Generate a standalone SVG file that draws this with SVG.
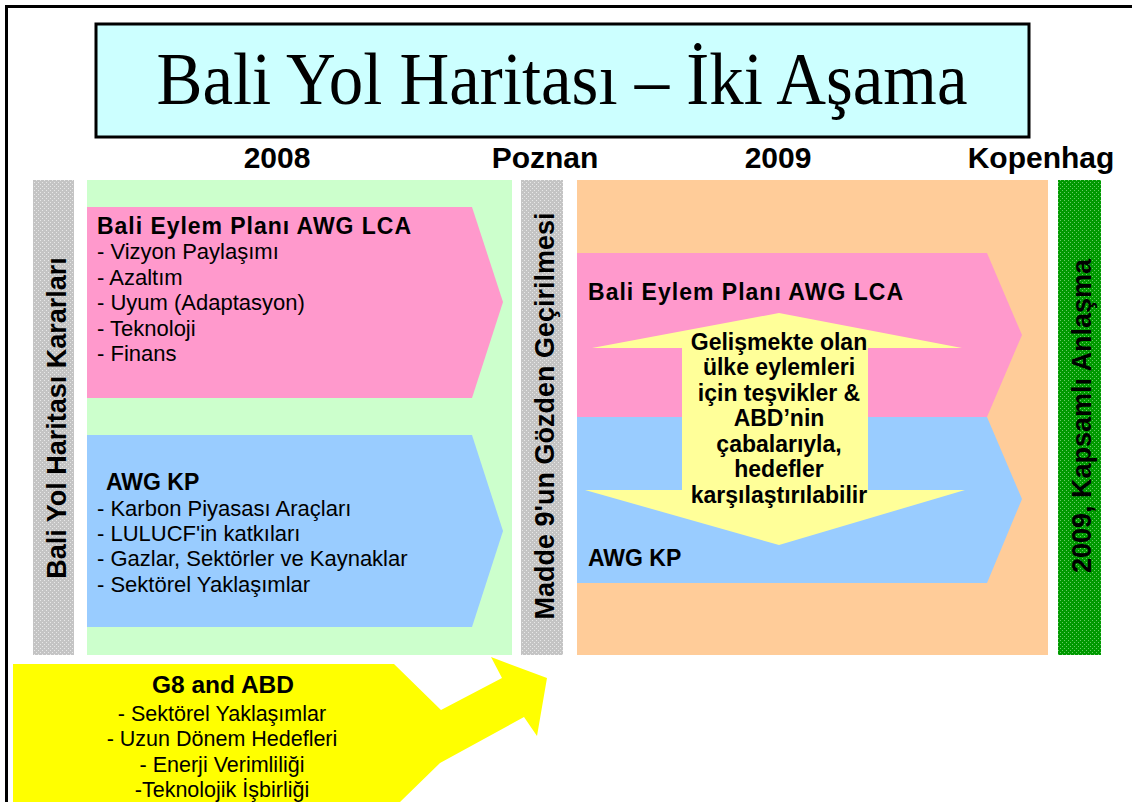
<svg xmlns="http://www.w3.org/2000/svg" width="1132" height="802" viewBox="0 0 1132 802">
<defs>
<pattern id="grayPat" width="4" height="4" patternUnits="userSpaceOnUse">
<rect width="4" height="4" fill="#C4C4C4"/>
<rect x="0" y="0" width="1" height="1" fill="#E8E8E8"/>
<rect x="2" y="2" width="1" height="1" fill="#E8E8E8"/>
</pattern>
<pattern id="greenPat" width="4" height="4" patternUnits="userSpaceOnUse">
<rect width="4" height="4" fill="#009900"/>
<rect x="0" y="0" width="1" height="1" fill="#66CC66"/>
<rect x="2" y="2" width="1" height="1" fill="#66CC66"/>
</pattern>
</defs>
<style>
.sans{font-family:"Liberation Sans",Arial,sans-serif;fill:#000}
.b{font-weight:bold}
.year{font-size:30px;font-weight:bold;text-anchor:middle}
.head{font-size:23px;font-weight:bold}
.item{font-size:22px}
.vert{font-size:27px;font-weight:bold;text-anchor:middle}
.ytext{font-size:23px;font-weight:bold;text-anchor:middle}
.gtext{font-size:21.5px;text-anchor:middle}
</style>
<rect x="0" y="0" width="1132" height="802" fill="#FFFFFF"/>
<rect x="6.5" y="6.5" width="1140" height="810" fill="none" stroke="#000" stroke-width="3"/>

<g id="title">
<rect x="96" y="24" width="933" height="113" fill="#CCFFFF" stroke="#000" stroke-width="3"/>
<text x="562" y="104" font-family="'Liberation Serif','Times New Roman',serif" font-size="73" text-anchor="middle" textLength="811" lengthAdjust="spacingAndGlyphs">Bali Yol Haritası – İki Aşama</text>
</g>

<g id="timeline-labels">
<text class="sans year" x="277" y="168">2008</text>
<text class="sans year" x="545" y="168">Poznan</text>
<text class="sans year" x="778" y="168">2009</text>
<text class="sans year" x="1041" y="168">Kopenhag</text>
</g>

<g id="bar-bali-kararlari">
<rect x="33" y="180" width="41" height="475" fill="url(#grayPat)"/>
<text class="sans vert" transform="translate(66,418) rotate(-90)">Bali Yol Haritası Kararları</text>
</g>

<g id="phase-2008">
<rect x="87" y="180" width="425" height="475" fill="#CCFFCC"/>
</g>

<g id="lca-2008">
<polygon points="87,207 472,207 503,302 472,398 87,398" fill="#FF99CC"/>
<text class="sans head" x="97" y="234" textLength="314" lengthAdjust="spacing">Bali Eylem Planı AWG LCA</text>
<text class="sans item" x="97" y="259">- Vizyon Paylaşımı</text>
<text class="sans item" x="97" y="285">- Azaltım</text>
<text class="sans item" x="97" y="310">- Uyum (Adaptasyon)</text>
<text class="sans item" x="97" y="336">- Teknoloji</text>
<text class="sans item" x="97" y="361">- Finans</text>
</g>

<g id="kp-2008">
<polygon points="87,435 472,435 503,531 472,627 87,627" fill="#99CCFF"/>
<text class="sans head" x="106" y="490">AWG KP</text>
<text class="sans item" x="97" y="516">- Karbon Piyasası Araçları</text>
<text class="sans item" x="97" y="541">- LULUCF'in katkıları</text>
<text class="sans item" x="97" y="566">- Gazlar, Sektörler ve Kaynaklar</text>
<text class="sans item" x="97" y="592">- Sektörel Yaklaşımlar</text>
</g>

<g id="bar-madde9">
<rect x="521" y="180" width="42" height="475" fill="url(#grayPat)"/>
<text class="sans vert" transform="translate(554,416) rotate(-90)">Madde 9'un Gözden Geçirilmesi</text>
</g>

<g id="phase-2009">
<rect x="577" y="180" width="471" height="475" fill="#FFCC99"/>
</g>

<g id="lca-2009">
<polygon points="577,253 987,253 1022,335 987,417 577,417" fill="#FF99CC"/>
<text class="sans head" x="588" y="300" textLength="315" lengthAdjust="spacing">Bali Eylem Planı AWG LCA</text>
</g>

<g id="kp-2009">
<polygon points="577,417 987,417 1022,499 987,583 577,583" fill="#99CCFF"/>
<text class="sans head" x="588" y="566">AWG KP</text>
</g>

<g id="comparability">
<polygon points="779,313 962,348 868,348 868,490 965,490 779,545 585,490 682,490 682,348 592,348" fill="#FFFF99"/>
<text class="sans ytext" x="779" y="350">Gelişmekte olan</text>
<text class="sans ytext" x="779" y="375">ülke eylemleri</text>
<text class="sans ytext" x="779" y="401">için teşvikler &amp;</text>
<text class="sans ytext" x="779" y="426">ABD’nin</text>
<text class="sans ytext" x="779" y="452">çabalarıyla,</text>
<text class="sans ytext" x="779" y="477">hedefler</text>
<text class="sans ytext" x="779" y="503">karşılaştırılabilir</text>
</g>

<g id="bar-kopenhag">
<rect x="1058" y="180" width="43" height="475" fill="url(#greenPat)"/>
<text class="sans vert" transform="translate(1091,416) rotate(-90)">2009, Kapsamlı Anlaşma</text>
</g>

<g id="g8-abd">
<polygon points="13,664 394,664 441,710 502,678 491,657 547,678 537,736 524,717 440,763 400,802 13,802" fill="#FFFF00"/>
<text class="sans b" x="223" y="693" font-size="24.5" text-anchor="middle">G8 and ABD</text>
<text class="sans gtext" x="222" y="721">- Sektörel Yaklaşımlar</text>
<text class="sans gtext" x="222" y="746">- Uzun Dönem Hedefleri</text>
<text class="sans gtext" x="222" y="772">- Enerji Verimliliği</text>
<text class="sans gtext" x="222" y="797">-Teknolojik İşbirliği</text>
</g>
</svg>
